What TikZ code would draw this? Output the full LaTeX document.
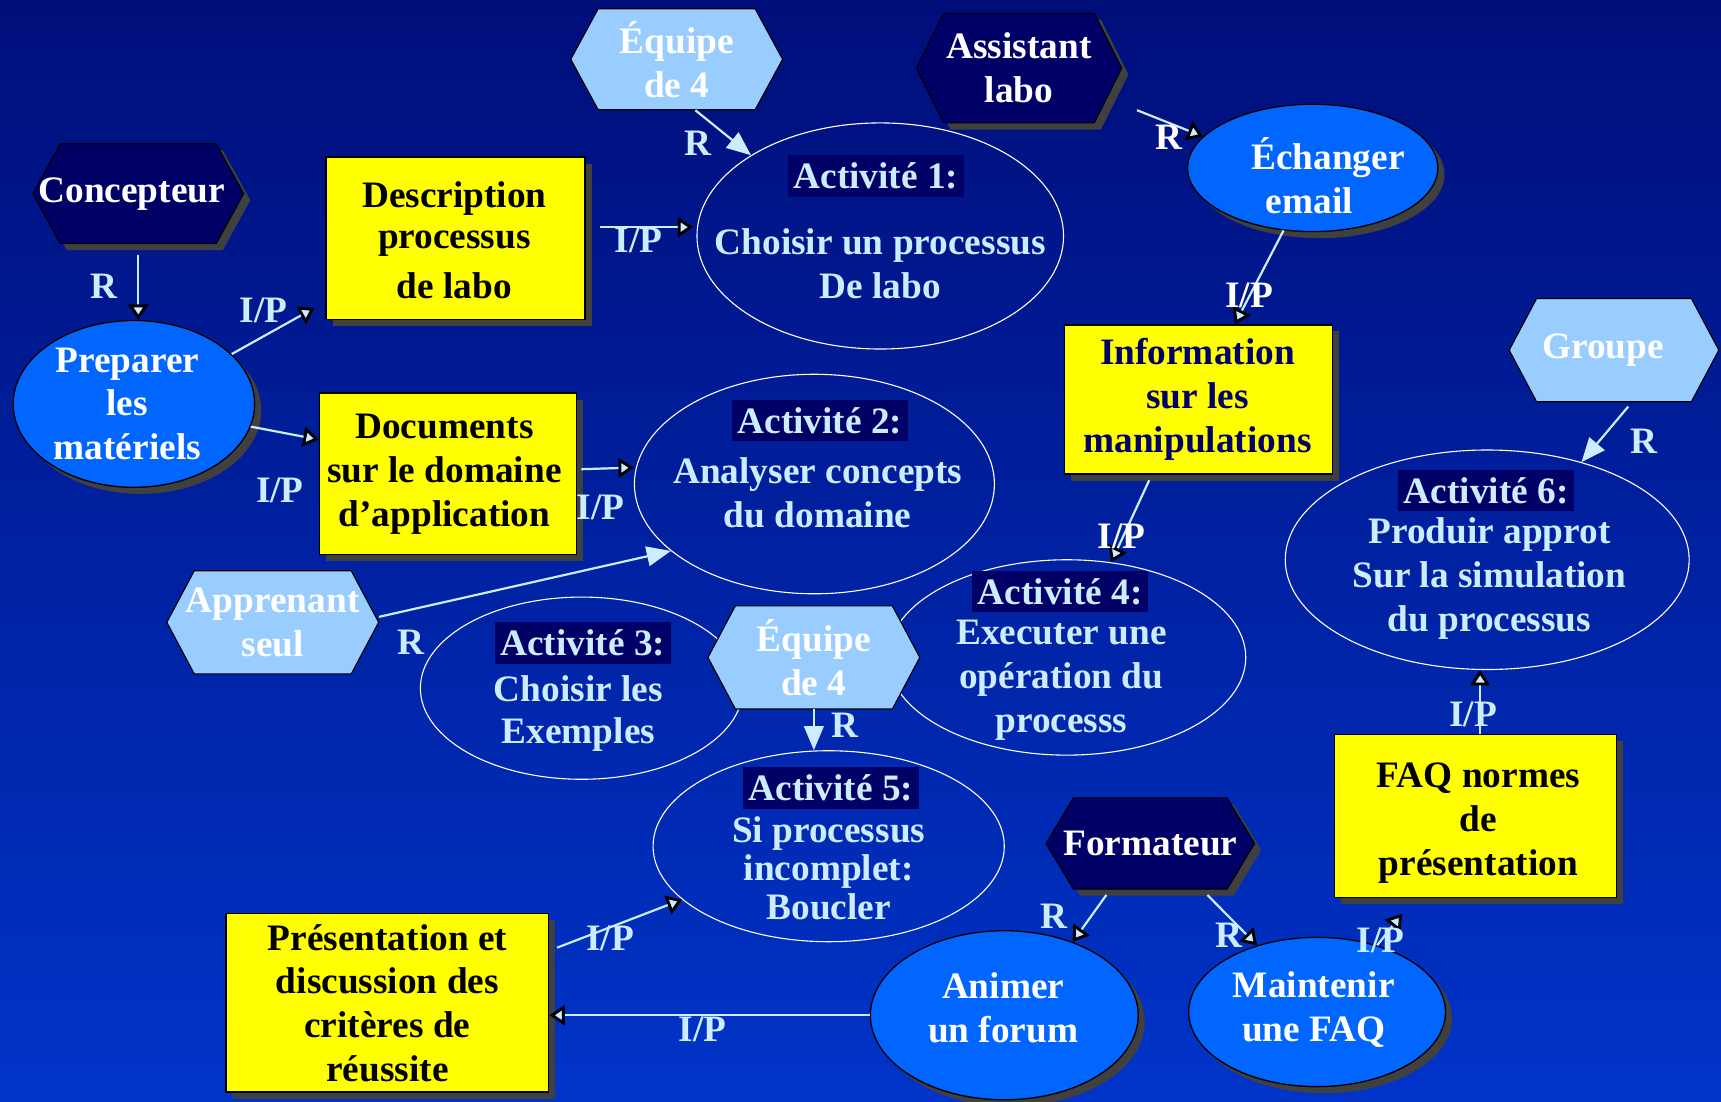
\documentclass[tikz,border=0pt]{standalone}
\usepackage{fontspec}
\setmainfont{Liberation Serif}
\usetikzlibrary{arrows.meta,shapes.geometric,shadows,calc}
\definecolor{bgtop}{RGB}{0,14,122}
\definecolor{bgbot}{RGB}{0,52,200}
\definecolor{navy}{RGB}{0,0,102}
\definecolor{lblue}{RGB}{153,204,255}
\definecolor{pale}{RGB}{204,236,255}
\definecolor{procblue}{RGB}{0,102,255}
\definecolor{shadowgray}{RGB}{64,64,64}
\definecolor{yel}{RGB}{255,255,0}
\newcommand\myhex[5]{\path[#1] ({#2-#4/2},{#3}) -- ({#2-#4/2+25},{#3-#5/2}) -- ({#2+#4/2-25},{#3-#5/2}) -- ({#2+#4/2},{#3}) -- ({#2+#4/2-25},{#3+#5/2}) -- ({#2-#4/2+25},{#3+#5/2}) -- cycle;}
\tikzset{
  every node/.style={font=\bfseries\fontsize{17}{20}\selectfont},
  shad/.style={drop shadow={shadow xshift=3pt, shadow yshift=-3pt, fill=shadowgray, opacity=1}},
  darkhex/.style={fill=navy, draw=black, line width=0.5pt, shad},
  lighthex/.style={fill=lblue, draw=black, line width=0.5pt},
  hexlabel/.style={text=white, align=center, inner sep=0pt},
  ybox/.style={rectangle, fill=yel, draw=black, line width=0.6pt, inner sep=0pt, shad},
  act/.style={ellipse, draw=white, line width=0.5pt, inner sep=0pt},
  proc/.style={ellipse, fill=procblue, draw=black, line width=0.6pt, inner sep=0pt, shad},
  acthead/.style={fill=navy, text=pale, inner xsep=2.5pt, inner ysep=0pt, minimum height=19pt},
  actbody/.style={text=pale, align=center, inner sep=0pt},
  txtw/.style={text=white, align=center, inner sep=0pt},
  txtk/.style={text=black, align=center, inner sep=0pt},
  lab/.style={text=pale, inner sep=0pt},
  labw/.style={text=white, inner sep=0pt},
  conn/.style={draw=pale, line width=1pt},
  openhead/.style={-{Triangle[length=7pt,width=9pt,fill=pale,color=black,line width=1.3pt]}},
  solidhead/.style={-{Triangle[length=11pt,width=9pt]}},
}
\begin{document}
\begin{tikzpicture}[x=0.5pt,y=-0.5pt]
\shade[top color=bgtop, bottom color=bgbot] (0,0) rectangle (1568,1004);
\useasboundingbox (0,0) rectangle (1568,1004);

% activity ellipses
\node[act, minimum width=167pt, minimum height=103pt] (act1) at (802,215) {};
\node[act, minimum width=164pt, minimum height=100pt] (act2) at (742,441) {};
\node[act, minimum width=147pt, minimum height=83pt] (act3) at (530,627) {};
\node[act, minimum width=163pt, minimum height=89pt] (act4) at (972,599) {};
\node[act, minimum width=160pt, minimum height=87pt] (act5) at (755,771) {};
\node[act, minimum width=184pt, minimum height=100pt] (act6) at (1355,510) {};

% process ellipses
\node[proc, minimum width=110pt, minimum height=76pt] (prep) at (122,368) {};
\node[proc, minimum width=114pt, minimum height=58pt] (ech) at (1196,153) {};
\node[proc, minimum width=122pt, minimum height=77pt] (anim) at (915,925) {};
\node[proc, minimum width=117pt, minimum height=68pt] (maint) at (1200,922) {};

% yellow boxes
\node[ybox, minimum width=118pt, minimum height=74pt] (desc) at (415,217) {};
\node[ybox, minimum width=117pt, minimum height=73.5pt] (docs) at (408,431.5) {};
\node[ybox, minimum width=122pt, minimum height=68pt] (info) at (1092,364) {};
\node[ybox, minimum width=128.5pt, minimum height=74.5pt] (faq) at (1344.5,743.5) {};
\node[ybox, minimum width=147pt, minimum height=81.5pt] (pres) at (353,913.5) {};

% hexagons
\myhex{darkhex}{126}{176.5}{192}{91}
\node[hexlabel, minimum width=96pt, minimum height=45.5pt] (conc) at (126,176.5) {Concepteur\hspace*{6pt}};
\myhex{darkhex}{928.5}{62}{187}{100}
\node[hexlabel, minimum width=93.5pt, minimum height=50pt] (assist) at (928.5,62) {Assistant\\labo};
\myhex{darkhex}{1048}{768.5}{190}{83}
\node[hexlabel, minimum width=95pt, minimum height=41.5pt] (form) at (1048,768.5) {Formateur};
\myhex{lighthex}{616.5}{54}{193}{92}
\node[hexlabel, minimum width=96.5pt, minimum height=46pt] (eq1) at (616.5,54) {Équipe\\de 4};
\myhex{lighthex}{1470.5}{319}{191}{94}
\node[hexlabel, minimum width=95.5pt, minimum height=47pt] (grp) at (1470.5,319) {Groupe\hspace*{10pt}};
\myhex{lighthex}{248.5}{567}{193}{94}
\node[hexlabel, minimum width=96.5pt, minimum height=47pt] (app) at (248.5,567) {Apprenant\\seul};
\myhex{lighthex}{741.5}{599}{193}{94}
\node[hexlabel, minimum width=96.5pt, minimum height=47pt] (eq2) at (741.5,599) {Équipe\\de 4};

% connectors
\draw[conn, openhead] ([yshift=-5pt]conc.south) -- (conc.south |- prep.north);
\draw[conn, openhead] (prep.27) -- ([xshift=-5pt,yshift=5.5pt]desc.south west);
\draw[conn, openhead] (prep.-11) -- ([yshift=15.5pt]docs.west);
\draw[conn, openhead] ([xshift=2pt,yshift=2pt]docs.east) -- ([yshift=7.5pt]act2.west);
\draw[conn, openhead] ([xshift=6.5pt,yshift=5pt]desc.east) -- ([xshift=-1.5pt,yshift=4pt]act1.west);
\draw[conn, solidhead] ([xshift=8.5pt]eq1.south) -- (act1.148);
\draw[conn, openhead] ([xshift=6.75pt,yshift=6pt]assist.south east) -- (ech.164);
\draw[conn, openhead] (ech.245) -- ([xshift=16.5pt]info.north);
\draw[conn, openhead] ([xshift=-22.5pt,yshift=-2.5pt]info.south) -- (act4.65);
\draw[conn, solidhead] ([xshift=6.5pt,yshift=-2pt]grp.south) -- (act6.46);
\draw[conn, openhead] ([xshift=2pt]faq.north) -- ([xshift=2pt]faq.north |- act6.south);
\draw[conn, openhead] (maint.48) -- ([xshift=31pt,yshift=-7pt]faq.south west);
\draw[conn, openhead] ([xshift=-20pt,yshift=-2.5pt]form.south) -- (anim.47);
\draw[conn, openhead] ([xshift=26pt,yshift=-2.5pt]form.south) -- (maint.132);
\draw[conn, openhead] (anim.west) -- (anim.west -| pres.east);
\draw[conn, openhead] ([xshift=3.5pt,yshift=-16pt]pres.north east) -- (act5.200);
\draw[conn, solidhead] (eq2.south) -- (eq2.south |- act5.north);
\draw[conn, solidhead] ([yshift=2.5pt]app.east) -- (act2.205);

% texts in shapes
\node[txtw] (prep-t) at (116,368) {Preparer\\les\\matériels};
\node[txtw] (ech-t) at (1193,160) {\hspace*{17pt}Échanger\\email};
\node[txtw] (anim-t) at (914,918) {Animer\\un forum};
\node[txtw] (maint-t) at (1197,920) {Maintenir\\une FAQ};
\node[txtk] (desc-t) at (414,219) {Description\\[-1.5pt]processus\\[3pt]de labo};
\node[txtk] (docs-t) at (405,432) {Documents\\sur le domaine\\d’application};
\node[txtk, text=navy] (info-t) at (1091,364) {Information\\sur les\\manipulations};
\node[txtk] (faq-t) at (1347,750) {FAQ normes\\de\\présentation};
\node[txtk] (pres-t) at (353,914) {Présentation et\\discussion des\\critères de\\réussite};

\node[acthead] (a1-h) at (798,160.5) {Activité 1:};
\node[actbody] (a1-b) at (802,240) {Choisir un processus\\De labo};
\node[acthead] (a2-h) at (747,383) {Activité 2:};
\node[actbody] (a2-b) at (745,449) {Analyser concepts\\du domaine};
\node[acthead] (a3-h) at (531,586) {Activité 3:};
\node[actbody, font=\bfseries\fontsize{17}{19}\selectfont] (a3-b) at (527,650) {Choisir les\\Exemples};
\node[acthead] (a4-h) at (966,539) {Activité 4:};
\node[actbody] (a4-b) at (967,619.5) {Executer une\\opération du\\processs};
\node[acthead] (a5-h) at (757,718) {Activité 5:};
\node[actbody, font=\bfseries\fontsize{17}{17.5}\selectfont] (a5-b) at (755,791) {Si processus\\incomplet:\\Boucler};
\node[acthead] (a6-h) at (1354,447) {Activité 6:};
\node[actbody] (a6-b) at (1357,527) {Produir approt\\Sur la simulation\\du processus};

% connector labels
\node[lab] (l-eq1) at (636,131) {R};
\node[labw] (l-as) at (1065,125) {R};
\node[lab] (l-da) at (582,219) {I/P};
\node[lab] (l-co) at (95,261) {R};
\node[lab] (l-pd) at (240,283) {I/P};
\node[lab] (l-pdo) at (255,447) {I/P};
\node[lab] (l-doa) at (547,462) {I/P};
\node[labw] (l-ei) at (1138,269) {I/P};
\node[labw] (l-ia) at (1022,489) {I/P};
\node[lab] (l-gr) at (1498,402) {R};
\node[lab] (l-ap) at (374,585) {R};
\node[lab] (l-eq2) at (770,661) {R};
\node[lab] (l-fa) at (960,835) {R};
\node[lab] (l-fm) at (1120,852) {R};
\node[lab] (l-faq) at (1342,651) {I/P};
\node[lab] (l-mf) at (1258,857) {I/P};
\node[lab] (l-ap2) at (640,938) {I/P};
\node[lab] (l-pa) at (556,855) {I/P};
\end{tikzpicture}
\end{document}
